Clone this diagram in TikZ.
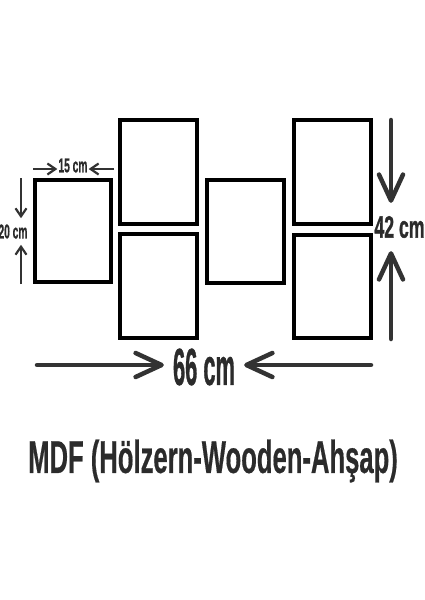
\documentclass[tikz,border=0pt]{standalone}
\usepackage{fontspec}
\setmainfont{Liberation Sans}
\newfontfamily\boldsans[FakeBold=1.2]{Liberation Sans Bold}
\newfontfamily\titlesans[FakeBold=0.6]{Liberation Sans Bold}
\usetikzlibrary{arrows.meta}
\definecolor{ink}{HTML}{333333}
\definecolor{titleink}{HTML}{2B2B2B}
\tikzset{
  frame/.style={draw=black, line width=4.5pt, inner sep=0pt, outer sep=0pt, fill=white},
  dimlabel/.style={inner sep=0pt, text=titleink, font=\boldsans},
  titlelabel/.style={inner sep=0pt, text=titleink, font=\titlesans},
  bigarrow/.style={draw=ink, line width=4.5pt, line cap=round,
    -{Straight Barb[length=26pt, width=24pt, line cap=round, line join=round]}},
  smallarrow/.style={draw=ink, line width=1.6pt,
    -{Straight Barb[length=8pt, width=11pt, line width=2.2pt]}},
}
\newcommand{\cond}[3]{\scalebox{#1}[1]{\fontsize{#2}{#2}\selectfont #3}}
\begin{document}
\begin{tikzpicture}[x=1pt, y=-1pt]
  \useasboundingbox[fill=white] (0,0) rectangle (424,600);
  % frames
  \node[frame, minimum width=76pt, minimum height=102pt] (fa) at (73,231) {};
  \node[frame, minimum width=77pt, minimum height=104pt] (fb) at (158.5,172) {};
  \node[frame, minimum width=77pt, minimum height=104pt] (fc) at (158.5,286) {};
  \node[frame, minimum width=77pt, minimum height=103pt] (fd) at (245.5,231.5) {};
  \node[frame, minimum width=77pt, minimum height=104pt] (fe) at (332.5,172) {};
  \node[frame, minimum width=77pt, minimum height=103pt] (ff) at (332.5,286.5) {};
  % 15 cm
  \node[dimlabel, inner xsep=1pt] (t15) at (73,165.5) {\cond{0.51}{20}{15 cm}};
  \coordinate (a15l) at (33,169);
  \coordinate (a15r) at (114,169);
  \draw[smallarrow] (a15l) -- (t15.west |- a15l);
  \draw[smallarrow] (a15r) -- (t15.east |- a15r);
  % 20 cm
  \node[dimlabel, inner ysep=6pt] (t20) at (13,231.5) {\cond{0.51}{20}{20 cm}};
  \coordinate (a20t) at (21,178);
  \coordinate (a20b) at (21,284);
  \draw[smallarrow] (a20t) -- (t20.north -| a20t);
  \draw[smallarrow] (a20b) -- (t20.south -| a20b);
  % 42 cm
  \node[dimlabel, inner ysep=13pt] (t42) at (399.5,227) {\cond{0.57}{31}{42 cm}};
  \coordinate (a42t) at (391,120);
  \coordinate (a42b) at (391,339);
  \draw[bigarrow] (a42t) -- (t42.north -| a42t);
  \draw[bigarrow] (a42b) -- (t42.south -| a42b);
  % 66 cm
  \node[dimlabel, inner xsep=9pt] (t66) at (204,367) {\cond{0.42}{52}{66 cm}};
  \coordinate (a66l) at (37,365);
  \coordinate (a66r) at (371,365);
  \draw[bigarrow] (a66l) -- (t66.west |- a66l);
  \draw[bigarrow] (a66r) -- (t66.east |- a66r);
  % title
  \node[titlelabel] (title) at (213,461) {\cond{0.557}{46}{MDF (Hölzern-Wooden-Ahşap)}};
\end{tikzpicture}
\end{document}
